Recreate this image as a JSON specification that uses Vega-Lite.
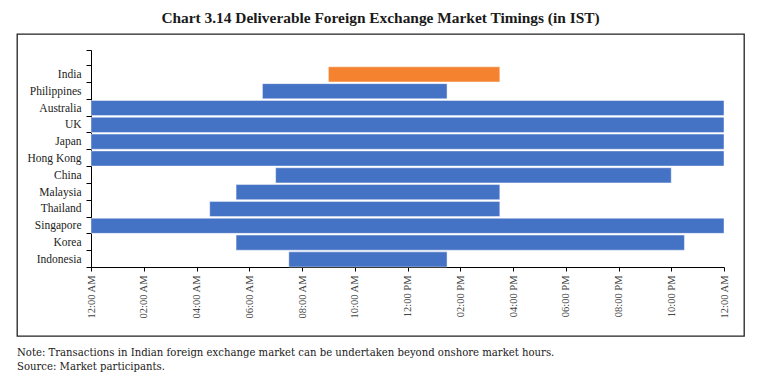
{
  "$schema": "https://vega.github.io/schema/vega-lite/v6.json",
  "padding": {"left": 16, "top": 10, "right": 5, "bottom": 5},
  "title": {
    "text": "Chart 3.14 Deliverable Foreign Exchange Market Timings (in IST)",
    "font": "Liberation Serif",
    "fontSize": 15.4,
    "fontWeight": "bold",
    "color": "#1a1a1a",
    "anchor": "middle",
    "offset": 1
  },
  "config": {
    "view": {"stroke": "#222222", "strokeWidth": 1.3},
    "font": "Liberation Serif"
  },
  "vconcat": [
    {
      "width": 727,
      "height": 302,
      "title": {
        "text": ["Note: Transactions in Indian foreign exchange market can be undertaken beyond onshore market hours.", "Source: Market participants."],
        "orient": "bottom",
        "anchor": "start",
        "font": "DejaVu Serif",
        "fontSize": 10.1,
        "fontWeight": "normal",
        "lineHeight": 14,
        "color": "#1a1a1a",
        "offset": 12
      },
      "data": {
        "values": [
          {"country": "India", "start": 9, "end": 15.5},
          {"country": "Philippines", "start": 6.5, "end": 13.5},
          {"country": "Australia", "start": 0, "end": 24},
          {"country": "UK", "start": 0, "end": 24},
          {"country": "Japan", "start": 0, "end": 24},
          {"country": "Hong Kong", "start": 0, "end": 24},
          {"country": "China", "start": 7, "end": 22},
          {"country": "Malaysia", "start": 5.5, "end": 15.5},
          {"country": "Thailand", "start": 4.5, "end": 15.5},
          {"country": "Singapore", "start": 0, "end": 24},
          {"country": "Korea", "start": 5.5, "end": 22.5},
          {"country": "Indonesia", "start": 7.5, "end": 13.5}
        ]
      },
      "mark": {"type": "bar", "stroke": "#ffffff", "strokeOpacity": 0.45, "strokeWidth": 1},
      "encoding": {
        "y": {
          "field": "country",
          "type": "nominal",
          "sort": null,
          "scale": {
            "domain": ["", "India", "Philippines", "Australia", "UK", "Japan", "Hong Kong", "China", "Malaysia", "Thailand", "Singapore", "Korea", "Indonesia"],
            "range": [16, 233],
            "paddingInner": 0.1,
            "paddingOuter": 0
          },
          "axis": {
            "title": null,
            "offset": -74,
            "tickBand": "extent",
            "domainColor": "#000000",
            "tickColor": "#000000",
            "tickSize": 5,
            "labelPadding": 5,
            "labelFont": "Liberation Serif",
            "labelFontSize": 11.5,
            "labelColor": "#222222"
          }
        },
        "x": {
          "field": "start",
          "type": "quantitative",
          "scale": {"domain": [0, 24], "nice": false, "range": [74, 707]},
          "axis": {
            "title": null,
            "offset": -69,
            "grid": false,
            "values": [0, 2, 4, 6, 8, 10, 12, 14, 16, 18, 20, 22, 24],
            "labelExpr": "timeFormat(datetime(2020, 0, 1, datum.value), '%I:%M %p')",
            "labelAngle": -90,
            "labelFont": "Liberation Serif",
            "labelFontSize": 10.5,
            "labelColor": "#444444",
            "labelPadding": 4,
            "tickSize": 4,
            "domainColor": "#000000",
            "tickColor": "#000000"
          }
        },
        "x2": {"field": "end"},
        "color": {
          "condition": {"test": "datum.country === 'India'", "value": "#F4822F"},
          "value": "#4472C4"
        }
      }
    }
  ]
}
